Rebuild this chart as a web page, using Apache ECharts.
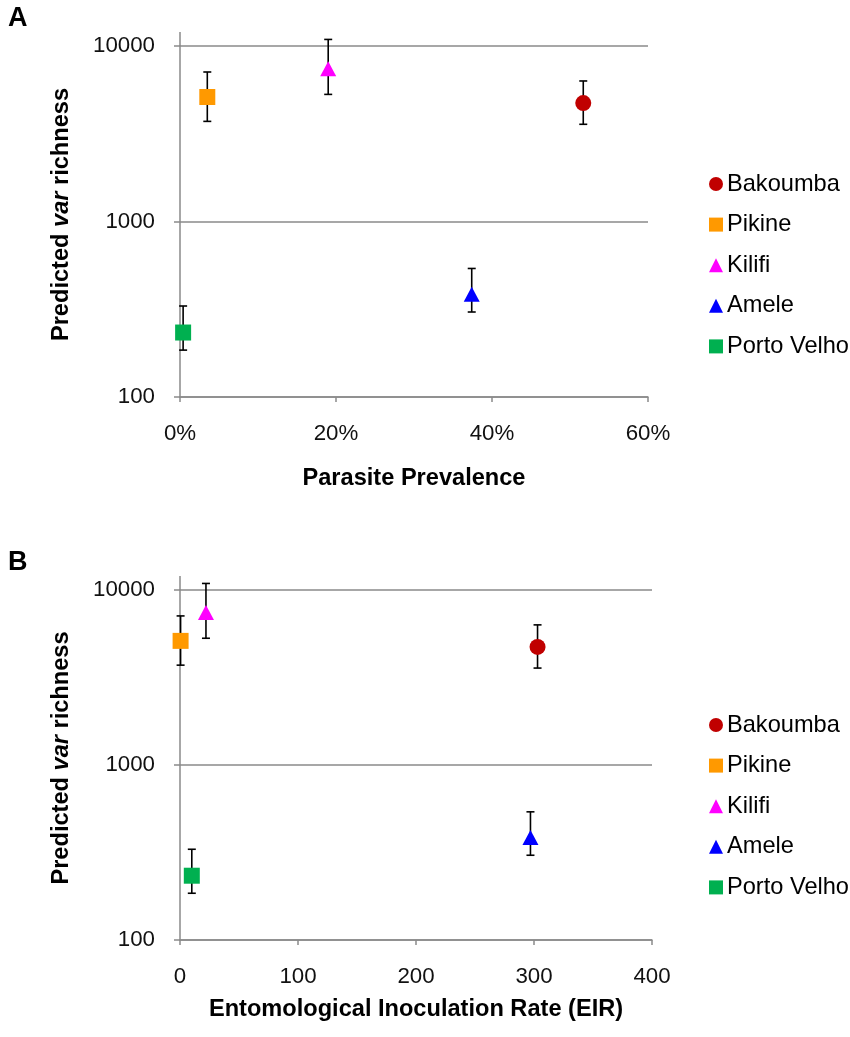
<!DOCTYPE html>
<html>
<head>
<meta charset="utf-8">
<script src="https://cdn.jsdelivr.net/npm/echarts@6/dist/echarts.min.js"></script>
<style>html,body{margin:0;padding:0;background:#fff}#c{width:850px;height:1037px}</style>
</head>
<body>
<div id="c"></div>
<script>
const sites = ['Bakoumba', 'Pikine', 'Kilifi', 'Amele', 'Porto Velho'];
const prevalence = [51.7, 3.5, 19.0, 37.4, 0.4];
const eir = [303, 0.5, 22, 297, 10];
const richness = [4730, 5120, 7430, 385, 233];
const errLow = [3580, 3720, 5300, 305, 185];
const errHigh = [6320, 7110, 10900, 540, 330];
const yTicks = [100, 1000, 10000];
const xTicksA = [0, 20, 40, 60];
const xTicksB = [0, 100, 200, 300, 400];

const colors = ['#C00000', '#FF9900', '#FF00FF', '#0000FF', '#00B050'];
const symbols = ['circle', 'rect', 'triangle', 'triangle', 'rect'];
const sizes = [16, 16, [16, 15], [16, 15], 16];
const FONT = 'Arial, "Liberation Sans", sans-serif';
const GRAY = '#8a8a8a';
const TICK_FS = 22.3;
const NAME_FS = 23.6;

const chart = echarts.init(document.getElementById('c'), null, {renderer: 'canvas'});

function errRender(params, api) {
  const lo = api.coord([api.value(0), api.value(1)]);
  const hi = api.coord([api.value(0), api.value(2)]);
  const c = 4;
  const st = {stroke: '#000', lineWidth: 1.6};
  return {type: 'group', children: [
    {type: 'line', shape: {x1: lo[0], y1: lo[1], x2: hi[0], y2: hi[1]}, style: st},
    {type: 'line', shape: {x1: lo[0] - c, y1: lo[1], x2: lo[0] + c, y2: lo[1]}, style: st},
    {type: 'line', shape: {x1: hi[0] - c, y1: hi[1], x2: hi[0] + c, y2: hi[1]}, style: st}
  ]};
}

function xAxisCfg(gi, ticks, name, fmt, nameGap) {
  return {
    type: 'value', gridIndex: gi, min: ticks[0], max: ticks[ticks.length - 1],
    interval: ticks[1] - ticks[0],
    name: name, nameLocation: 'middle', nameGap: nameGap,
    nameTextStyle: {fontFamily: FONT, fontSize: NAME_FS, fontWeight: 'bold', color: '#000'},
    axisLine: {lineStyle: {color: GRAY, width: 1.5}},
    axisTick: {show: true, length: 5, lineStyle: {color: GRAY, width: 1.5}},
    axisLabel: {fontFamily: FONT, fontSize: TICK_FS, color: '#111', margin: 26, formatter: fmt},
    splitLine: {show: false}
  };
}
function yAxisCfg(gi) {
  return {
    type: 'log', logBase: 10, gridIndex: gi, min: yTicks[0], max: yTicks[yTicks.length - 1],
    name: '{n|Predicted }{i|var}{n| richness}', nameLocation: 'middle', nameGap: 107,
    nameTextStyle: {fontFamily: FONT, fontSize: NAME_FS, fontWeight: 'bold', color: '#000',
      padding: [0, 0, 0, 14],
      rich: {n: {fontFamily: FONT, fontSize: NAME_FS, fontWeight: 'bold', color: '#000'},
             i: {fontFamily: FONT, fontSize: NAME_FS, fontWeight: 'bold', fontStyle: 'italic', color: '#000'}}},
    axisLine: {show: true, lineStyle: {color: GRAY, width: 1.5}},
    axisTick: {show: true, length: 6, lineStyle: {color: GRAY, width: 1.5}},
    minorTick: {show: false},
    axisLabel: {fontFamily: FONT, fontSize: TICK_FS, color: '#111', margin: 25, formatter: v => String(v)},
    splitLine: {show: true, lineStyle: {color: GRAY, width: 1.5}}
  };
}

const series = [];
[prevalence, eir].forEach((xs, gi) => {
  series.push({
    type: 'custom', xAxisIndex: gi, yAxisIndex: gi, z: 2, silent: true,
    renderItem: errRender,
    data: xs.map((x, i) => [x, errLow[i], errHigh[i]])
  });
  sites.forEach((s, i) => {
    series.push({
      type: 'scatter', name: s, xAxisIndex: gi, yAxisIndex: gi, z: 5,
      symbol: symbols[i], symbolSize: sizes[i],
      itemStyle: {color: colors[i], opacity: 1},
      data: [[xs[i], richness[i]]]
    });
  });
});

function legendCfg(top) {
  return {
    data: sites.map((s, i) => ({name: s, icon: symbols[i]})),
    orient: 'vertical', left: 709, top: top, padding: 0,
    itemWidth: 14, itemHeight: 14, itemGap: 16.6,
    textStyle: {fontFamily: FONT, fontSize: NAME_FS, lineHeight: 24, color: '#000', padding: [0, 0, 0, -1]},
    selectedMode: false
  };
}

chart.setOption({
  animation: false,
  backgroundColor: '#fff',
  title: [
    {text: 'A', left: 8, top: 5, padding: 0, textStyle: {fontFamily: FONT, fontSize: 27, fontWeight: 'bold', color: '#000'}},
    {text: 'B', left: 8, top: 549, padding: 0, textStyle: {fontFamily: FONT, fontSize: 27, fontWeight: 'bold', color: '#000'}}
  ],
  grid: [
    {left: 180, right: 202, top: 46, height: 351},
    {left: 180, right: 198, top: 590, height: 350}
  ],
  xAxis: [
    xAxisCfg(0, xTicksA, 'Parasite Prevalence', '{value}%', 69),
    xAxisCfg(1, xTicksB, 'Entomological Inoculation Rate (EIR)', '{value}', 57)
  ],
  yAxis: [yAxisCfg(0), yAxisCfg(1)],
  legend: [legendCfg(172), legendCfg(713)],
  series: series
});

// extend the y axis line slightly above the top gridline (as in the original)
const ext = [];
[0, 1].forEach(gi => {
  const p = chart.convertToPixel({xAxisIndex: gi, yAxisIndex: gi}, [0, yTicks[yTicks.length - 1]]);
  ext.push({type: 'line', shape: {x1: p[0], y1: p[1], x2: p[0], y2: p[1] - 14}, style: {stroke: GRAY, lineWidth: 1.5}, silent: true});
});
chart.setOption({graphic: ext});
</script>
</body>
</html>
